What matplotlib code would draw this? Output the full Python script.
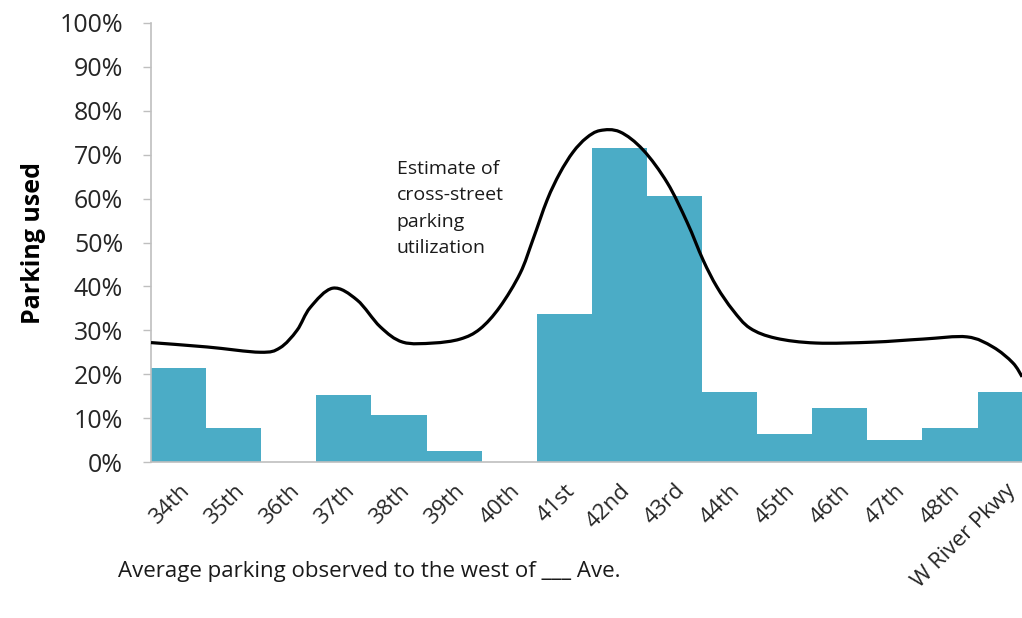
import numpy as np
import matplotlib.pyplot as plt
from matplotlib.path import Path
from matplotlib.patches import PathPatch
from matplotlib.transforms import ScaledTranslation

plt.rcParams['font.family'] = ['Open Sans', 'DejaVu Sans']

# cross streets and observed parking use (%)
streets = ['34th', '35th', '36th', '37th', '38th', '39th', '40th', '41st',
           '42nd', '43rd', '44th', '45th', '46th', '47th', '48th', 'W River Pkwy']
used = [21.4, 7.8, 0, 15.3, 10.7, 2.5, 0, 33.7,
        71.5, 60.6, 16.0, 6.4, 12.3, 5.0, 7.7, 15.9]

# estimate curve (x in street index units)
est_x = [-0.5, 0.52, 1.48, 1.84, 2.15, 2.39, 2.80, 3.24, 3.66, 4.07, 4.62,
         5.11, 5.47, 5.83, 6.20, 6.43, 6.69, 6.92, 7.16, 7.40, 7.65, 8.01,
         8.43, 8.87, 9.23, 9.52, 9.77, 10.06, 10.37, 10.84, 11.57, 12.60,
         13.51, 14.31, 14.78, 15.14, 15.31]
est_y = [27.2, 26.2, 25.0, 26.0, 30.0, 35.2, 39.6, 36.9, 30.8, 27.3, 27.1,
         28.0, 30.3, 35.3, 43.0, 50.6, 59.7, 65.8, 70.6, 73.8, 75.5, 75.2,
         71.1, 63.6, 54.6, 46.0, 39.9, 34.6, 30.5, 28.2, 27.1, 27.3,
         28.0, 28.5, 26.2, 22.6, 19.4]


# smooth line like the Excel "smoothed line" option
def smooth_path(xs, ys):
    pts = np.column_stack([xs, ys])
    n = len(pts)
    verts = [pts[0]]
    codes = [Path.MOVETO]
    for i in range(n - 1):
        p0 = pts[max(i - 1, 0)]
        p1 = pts[i]
        p2 = pts[i + 1]
        p3 = pts[min(i + 2, n - 1)]
        verts += [p1 + (p2 - p0) / 6, p2 - (p3 - p1) / 6, p2]
        codes += [Path.CURVE4] * 3
    return Path(verts, codes)


fig = plt.figure(figsize=(10.22, 6.18), dpi=100)
# the original picture is cropped on the right, the last bar runs off the edge
ax = fig.add_axes([151 / 1022, 1 - 462 / 618, 881.6 / 1022, 439 / 618])

x = np.arange(len(streets))
ax.bar(x, used, width=1.0, color='#4BACC6', zorder=2)
ax.add_patch(PathPatch(smooth_path(est_x, est_y), facecolor='none',
                       edgecolor='black', lw=2.3, zorder=3, clip_on=False))

ax.set_xlim(-0.5, 15.5)
ax.set_ylim(0, 100)
ax.set_yticks(range(0, 101, 10))
ax.set_yticklabels([f'{v}%' for v in range(0, 101, 10)], fontsize=18, color='#262626')
ax.set_xticks(x)
ax.set_xticklabels(streets, rotation=45, ha='right', va='top',
                   rotation_mode='anchor', fontsize=16, color='#262626')
shift = ScaledTranslation(-4 / 100, 0, fig.dpi_scale_trans)
for lbl in ax.get_xticklabels():
    lbl.set_transform(lbl.get_transform() + shift)
ax.tick_params(axis='x', length=0, pad=13)
ax.tick_params(axis='y', length=6, width=1, color='#BFBFBF', pad=14)

for s in ['top', 'right']:
    ax.spines[s].set_visible(False)
ax.spines['left'].set_color('#BFBFBF')
ax.spines['bottom'].set_color('#BFBFBF')
ax.spines['left'].set_linewidth(1.2)
ax.spines['bottom'].set_linewidth(1.2)

ax.set_ylabel('Parking used', fontsize=18, fontweight='bold', labelpad=10)

ax.text(3.96, 68.8, 'Estimate of\ncross-street\nparking\nutilization',
        fontsize=14, va='top', ha='left', linespacing=1.6, color='#1a1a1a')

fig.text(118 / 1022, 1 - 572 / 618, 'Average parking observed to the west of ___ Ave.',
         fontsize=16, va='center', ha='left', color='#1a1a1a')

fig.savefig('out.png', dpi=100, facecolor='white')
